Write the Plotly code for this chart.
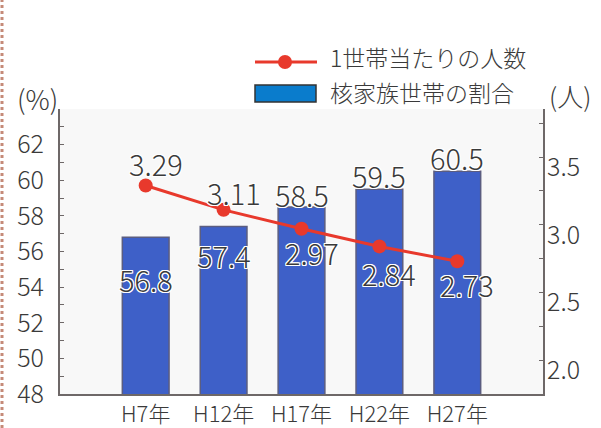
import plotly.graph_objects as go

categories = ["H7年", "H12年", "H17年", "H22年", "H27年"]
nuclear_share = [56.8, 57.4, 58.5, 59.5, 60.5]       # 核家族世帯の割合 (%)
persons_per_hh = [3.29, 3.11, 2.97, 2.84, 2.73]      # 1世帯当たりの人数 (人)
left_ticks = [48, 50, 52, 54, 56, 58, 60, 62]
right_ticks = [2.0, 2.5, 3.0, 3.5]

# label offsets (px) for readability
bar_label_shift = [-42, -28, 13, 14, 14]
line_label_shift = [23, 18, -23, -27, -23]

FONT = "Noto Sans CJK JP"
WEIGHT = 300
TXT = "#3a3a3a"
OUTLINE = ("1px 1px 0 #fff, -1px -1px 0 #fff, 1px -1px 0 #fff, -1px 1px 0 #fff,"
           " 0 1px 0 #fff, 0 -1px 0 #fff, 1px 0 0 #fff, -1px 0 0 #fff")

L, R, T, B = 60, 58, 109, 34
W, H = 601, 428
PW, PH = W - L - R, H - T - B

def px(x):
    return (x - L) / PW

def py(y):
    return (H - B - y) / PH

def f(size):
    return dict(family=FONT, size=size, color=TXT, weight=WEIGHT)

xs = list(range(len(categories)))

fig = go.Figure()
fig.add_trace(go.Bar(
    x=xs, y=nuclear_share, width=0.6,
    marker=dict(color="#3e60c8", line=dict(color="#5b5d80", width=1.5)),
    yaxis="y", showlegend=False, hoverinfo="skip",
))
fig.add_trace(go.Scatter(
    x=xs, y=persons_per_hh, mode="lines+markers",
    line=dict(color="#e8392c", width=3),
    marker=dict(color="#e8392c", size=14),
    yaxis="y2", showlegend=False, hoverinfo="skip",
))

annotations = []
for i, v in enumerate(nuclear_share):
    annotations.append(dict(
        x=xs[i], y=v, xref="x", yref="y", text=f"{v:.1f}", showarrow=False,
        xanchor="center", yanchor="middle", yshift=bar_label_shift[i],
        font=dict(**f(29), shadow=OUTLINE),
    ))
for i, v in enumerate(persons_per_hh):
    annotations.append(dict(
        x=xs[i], y=v, xref="x", yref="y2", text=f"{v:.2f}", showarrow=False,
        xanchor="center", yanchor="middle", yshift=line_label_shift[i], xshift=10,
        font=dict(**f(29), shadow=OUTLINE),
    ))

def note(x, y, text, size=23, xanchor="center"):
    return dict(x=px(x), y=py(y), xref="paper", yref="paper", text=text, showarrow=False,
                xanchor=xanchor, yanchor="middle", font=f(size))

annotations += [
    note(37, 99, "(%)", size=27),
    note(570, 95, "(人)", size=26),
    note(328, 57, "1世帯当たりの人数", xanchor="left"),
    note(328, 92, "核家族世帯の割合", xanchor="left"),
]

shapes = [
    # legend line + marker
    dict(type="line", xref="paper", yref="paper", x0=px(255), x1=px(317), y0=py(62), y1=py(62),
         line=dict(color="#e8392c", width=3)),
    dict(type="circle", xref="paper", yref="paper", xsizemode="pixel", ysizemode="pixel",
         xanchor=px(285), yanchor=py(62), x0=-7, x1=7, y0=-7, y1=7,
         fillcolor="#e8392c", line=dict(width=0)),
    # legend box
    dict(type="rect", xref="paper", yref="paper", x0=px(255), x1=px(316), y0=py(102), y1=py(85),
         fillcolor="#0a7ccc", line=dict(color="#333", width=1.5)),
    # decorative dotted border at left edge
    dict(type="line", xref="paper", yref="paper", x0=px(2), x1=px(2), y0=py(H), y1=py(0),
         line=dict(color="#c58a78", width=3, dash="dot")),
]

fig.update_layout(
    width=W, height=H,
    margin=dict(l=L, r=R, t=T, b=B, pad=0),
    paper_bgcolor="white", plot_bgcolor="#f8f8f8",
    font=dict(family=FONT, color=TXT),
    xaxis=dict(
        range=[-1.1, 5.1], tickvals=xs, ticktext=categories, showgrid=False, zeroline=False,
        showline=True, linecolor="#6e6868", linewidth=2, ticks="", automargin=False,
        tickfont=f(22),
    ),
    yaxis=dict(
        range=[48, 64], tickvals=left_ticks, showgrid=False, zeroline=False,
        showline=True, linecolor="#6e6868", linewidth=2, automargin=False,
        ticks="inside", ticklen=4, tickcolor="#6e6868",
        minor=dict(dtick=1, ticks="inside", ticklen=4, tickcolor="#6e6868"),
        tickfont=f(25), ticklabelstandoff=9,
    ),
    yaxis2=dict(
        range=[1.75, 3.855], tickvals=right_ticks, tickformat=".1f", overlaying="y", side="right",
        showgrid=False, zeroline=False, automargin=False,
        showline=True, linecolor="#6e6868", linewidth=2,
        ticks="inside", ticklen=4, tickcolor="#6e6868",
        minor=dict(dtick=0.25, ticks="inside", ticklen=4, tickcolor="#6e6868"),
        tickfont=f(25), ticklabelshift=10, ticklabelstandoff=-3,
    ),
    annotations=annotations,
    shapes=shapes,
)

fig.write_html(
    "out.html",
    config={"displayModeBar": False},
    post_script="document.body.style.margin='0';document.body.style.overflow='hidden';",
)
